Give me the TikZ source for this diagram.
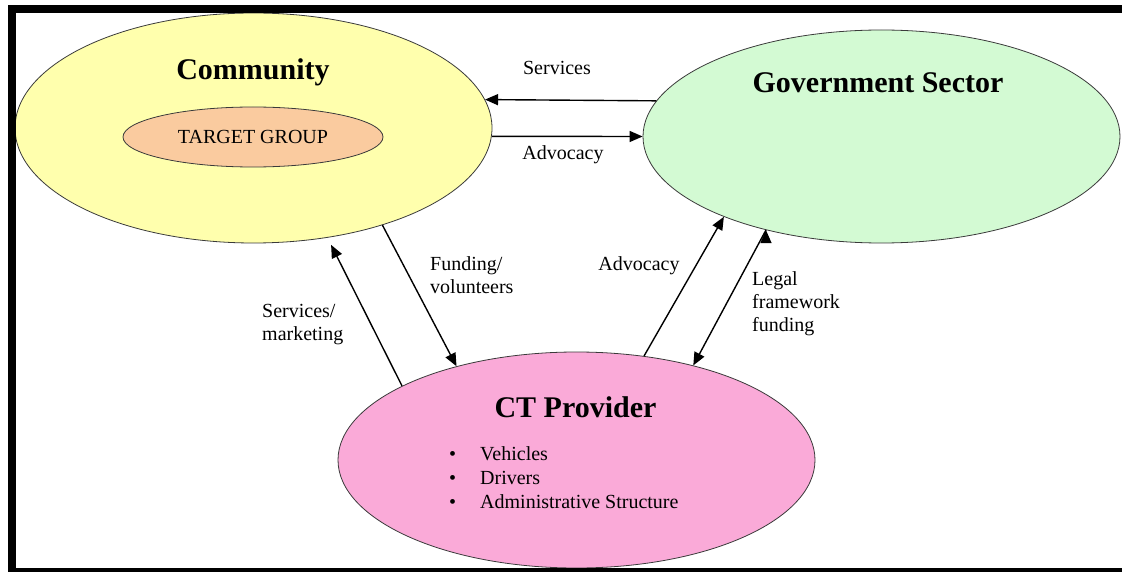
\documentclass[tikz,border=0pt]{standalone}
\usepackage{fontspec}
\setmainfont{Liberation Serif}
\usepackage{tikz}
\usetikzlibrary{shapes}
\usetikzlibrary{arrows.meta}
\usetikzlibrary{positioning}
\usepackage{xcolor}
\definecolor{myyellow}{HTML}{FFFFAD}
\definecolor{mypeach}{HTML}{FACB9F}
\definecolor{mygreen}{HTML}{D3FAD3}
\definecolor{mypink}{HTML}{FAAAD8}
\definecolor{myline}{HTML}{3A3A3A}
\tikzset{every text node part/.style={align=left}}
\tikzstyle{bubble} = [ellipse, draw=myline, line width=0.8pt, inner sep=0pt, minimum width=477pt]
\tikzstyle{lbl} = [inner sep=0pt, font={\fontsize{20}{23}\selectfont}]
\tikzstyle{heading} = [lbl, anchor=base, font={\fontsize{30}{36}\selectfont\bfseries}]
\tikzstyle{ln} = [draw, line width=1.4pt, arrows={-Triangle[length=13pt, width=11pt]}]

\begin{document}
\begin{tikzpicture}[x=1pt, y=-1pt]
  \useasboundingbox (0,0) rectangle (1122,572);
  \node[bubble, fill=myyellow, minimum height=230pt] (community) at (253.5,128) {};
  \node[bubble, fill=mypeach, minimum width=260pt, minimum height=60pt, font={\fontsize{20}{23}\selectfont}] (target) at (253,137) {TARGET GROUP};
  \node[heading] (commtitle) at (253,80) {Community};
  \node[bubble, fill=mygreen, minimum height=213pt] (gov) at (881.5,136.5) {};
  \node[heading] (govtitle) at (878,93) {Government Sector};
  \node[bubble, fill=mypink, minimum height=216pt] (ct) at (576.5,460) {};
  \node[heading] (cttitle) at (575.5,417) {CT Provider};
  \node[lbl, anchor=base west] (vehicles) at (449,460) {\textbullet\hspace{24pt}Vehicles};
  \node[lbl, anchor=base west] (drivers) at (449,484) {\textbullet\hspace{24pt}Drivers};
  \node[lbl, anchor=base west] (admin) at (449,508) {\textbullet\hspace{24pt}Administrative Structure};
  \node[lbl, anchor=base] (services) at (557,75) {Services};
  \node[lbl, anchor=base] (advtop) at (563,160) {Advocacy};
  \node[lbl, anchor=north west] (funding) at (430,256) {Funding/\\volunteers};
  \node[lbl, anchor=north west] (servmark) at (262,304) {Services/\\marketing};
  \node[lbl, anchor=base] (advlow) at (639,270) {Advocacy};
  \node[lbl, anchor=north west] (legal) at (752,271) {Legal\\framework\\funding};
  \path[ln]
    (gov.171) edge (community.7)
    (community.358) edge (gov.west)
    (community.323) edge (ct.142)
    (ct.157) edge[shorten >=8pt] (community.304)
    (ct.57) edge (gov.207)
    (gov.219) edge (ct.39);
  % frame
  \fill (8,5) rectangle (1122,13);
  \fill (8,5) rectangle (16,572);
  \fill (8,568) rectangle (1122,572);
\end{tikzpicture}
\end{document}
